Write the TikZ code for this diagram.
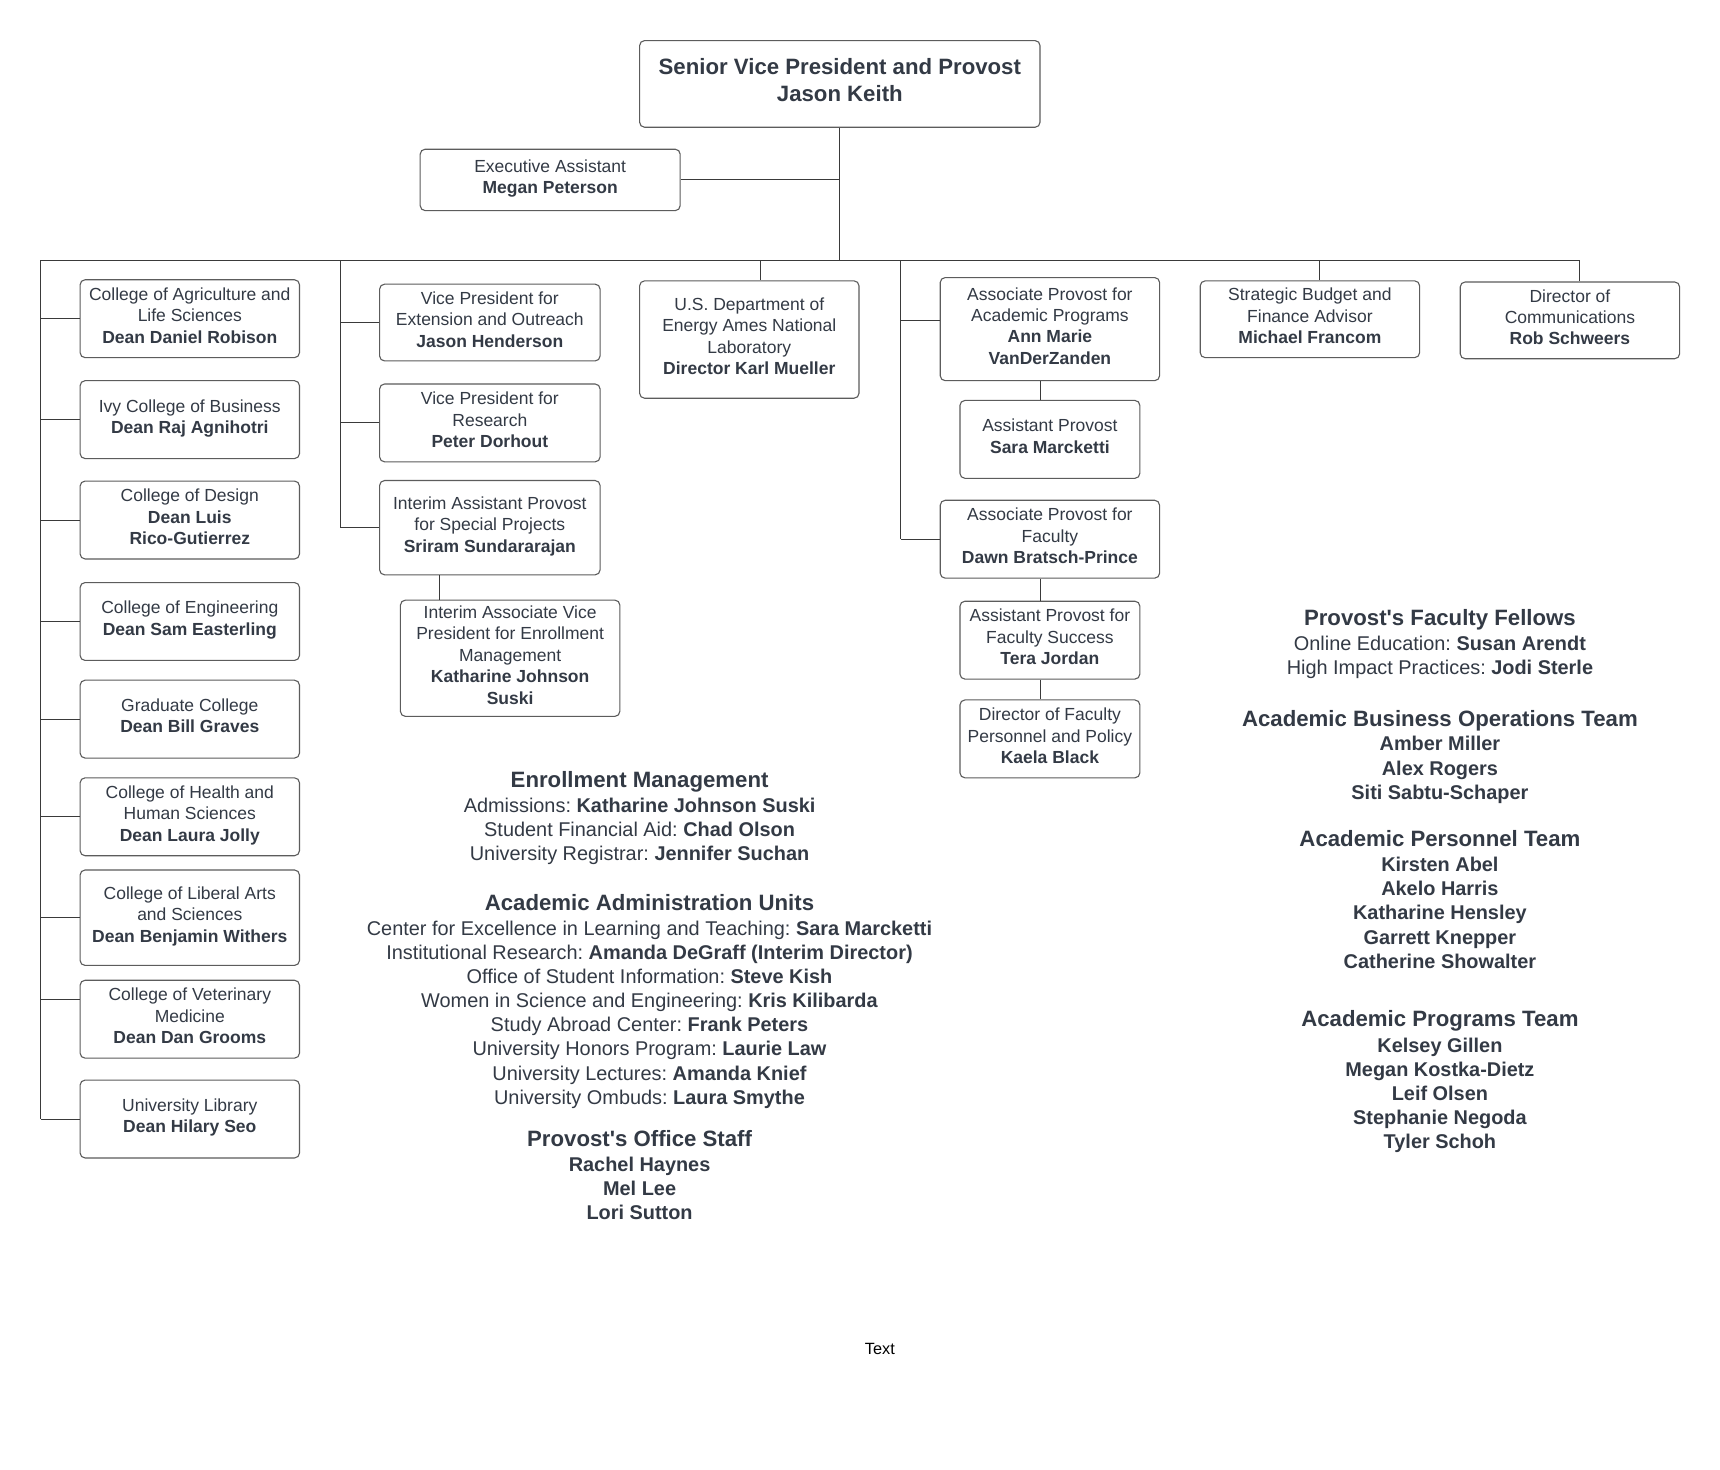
\documentclass[tikz,border=0pt]{standalone}
\usepackage{fontspec}
\setmainfont{Liberation Sans}
\usetikzlibrary{positioning}
\usetikzlibrary{calc}
\definecolor{inkc}{HTML}{333A45}
\definecolor{wirec}{HTML}{3A3A3A}
\definecolor{framec}{HTML}{5C5C5C}
\newcommand{\boxfont}{\fontsize{17.5}{21.4}\selectfont}
\newcommand{\bodyfont}{\fontsize{19.9}{24.2}\selectfont}
\newcommand{\headfont}{\fontsize{22.2}{27.5}\selectfont\bfseries}
\tikzset{
	every path/.style={line width=1.1pt},
	unit/.style={draw=framec, rounded corners=5pt, align=center, text=inkc, font=\boxfont, inner sep=0pt, minimum width=219.4pt, minimum height=77.9pt, execute at begin node=\strut, execute at end node=\strut},
	boxsize/.style 2 args={minimum width=#1*1.0971pt, minimum height=#2*1.0971pt},
	wire/.style={draw=wirec, line width=1pt},
	txtline/.style={anchor=base, text=inkc, font=\bodyfont, inner sep=0pt},
	names/.style={txtline, font=\bodyfont\bfseries},
	heading/.style={txtline, font=\headfont}
}

\begin{document}
\frenchspacing
\begin{tikzpicture}[x=1.0971pt, y=-1.0971pt]
	\fill[white] (0,0) rectangle (1567.8,1339.9);
	\useasboundingbox (0,0) rectangle (1567.8,1339.9);
	
	% Provost and assistant
	\node[unit, boxsize={365}{79}, font=\headfont] (provost) at (765.5,76.5) {Senior Vice President and Provost\\Jason Keith};
	\node[unit, boxsize={237}{56}] (exec) at (501.5,164) {Executive Assistant\\\textbf{Megan Peterson}};
	
	% Colleges
	\node[unit] (agri) at (173,290.5) {College of Agriculture and\\Life Sciences\\\textbf{Dean Daniel Robison}};
	\node[unit] (ivy) at (173,382.5) {Ivy College of Business\\\textbf{Dean Raj Agnihotri}};
	\node[unit] (design) at (173,474) {College of Design\\\textbf{Dean Luis}\\\textbf{Rico-Gutierrez}};
	\node[unit] (eng) at (173,566.5) {College of Engineering\\\textbf{Dean Sam Easterling}};
	\node[unit] (grad) at (173,655.5) {Graduate College\\\textbf{Dean Bill Graves}};
	\node[unit] (health) at (173,744.5) {College of Health and\\Human Sciences\\\textbf{Dean Laura Jolly}};
	\node[unit, boxsize={200}{87}] (las) at (173,836.5) {College of Liberal Arts\\and Sciences\\\textbf{Dean Benjamin Withers}};
	\node[unit] (vet) at (173,929) {College of Veterinary\\Medicine\\\textbf{Dean Dan Grooms}};
	\node[unit] (lib) at (173,1020) {University Library\\\textbf{Dean Hilary Seo}};
	
	% Vice presidents
	\node[unit, boxsize={201}{70}] (vpext) at (446.5,294) {Vice President for\\Extension and Outreach\\\textbf{Jason Henderson}};
	\node[unit, boxsize={201}{71}] (vpres) at (446.5,385.5) {Vice President for\\Research\\\textbf{Peter Dorhout}};
	\node[unit, boxsize={201}{86}] (iap) at (446.5,481) {Interim Assistant Provost\\for Special Projects\\\textbf{Sriram Sundararajan}};
	\node[unit, boxsize={200}{106}] (iavp) at (465,600) {Interim Associate Vice\\President for Enrollment\\Management\\\textbf{Katharine Johnson}\\\textbf{Suski}};
	\node[unit, boxsize={200}{107}] (doe) at (683,309.5) {U.S. Department of\\Energy Ames National\\Laboratory\\\textbf{Director Karl Mueller}};
	
	% Associate provosts
	\node[unit, boxsize={200}{94}] (apap) at (957,300) {Associate Provost for\\Academic Programs\\\textbf{Ann Marie}\\\textbf{VanDerZanden}};
	\node[unit, boxsize={164}{71}] (aps) at (957,400.5) {Assistant Provost\\\textbf{Sara Marcketti}};
	\node[unit] (apf) at (957,491.5) {Associate Provost for\\Faculty\\\textbf{Dawn Bratsch-Prince}};
	\node[unit, boxsize={164}{71}] (apfs) at (957,583.5) {Assistant Provost for\\Faculty Success\\\textbf{Tera Jordan}};
	\node[unit, boxsize={164}{71}] (dfpp) at (957,673.5) {Director of Faculty\\Personnel and Policy\\\textbf{Kaela Black}};
	\node[unit, boxsize={200}{70}] (budget) at (1194,291) {Strategic Budget and\\Finance Advisor\\\textbf{Michael Francom}};
	\node[unit, boxsize={200}{70}] (comm) at (1431,292) {Director of\\Communications\\\textbf{Rob Schweers}};
	
	% Connectors
	\coordinate (barL) at (37,237);
	\coordinate (barR) at (1440,237);
	\coordinate (trunkB) at (310,237);
	\coordinate (trunkD) at (821,237);
	\coordinate (vetin) at ($(vet.north west)!0.25!(vet.south west)$);
	\coordinate (apapin) at ($(apap.north west)!0.415!(apap.south west)$);
	\coordinate (iavpin) at ($(iavp.north west)+(36,0)$);
	\coordinate (doein) at ($(doe.north)+(10,0)$);
	\coordinate (budgetin) at ($(budget.north)+(9,0)$);
	\coordinate (stem) at ($(aps.north)+(-9,0)$);
	
	\draw[wire] (barL) -- (barR);
	\draw[wire] (provost.south) -- (provost.south |- barL);
	\draw[wire] (exec.east) -- (exec.east -| provost.south);
	
	\draw[wire] (barL) -- (barL |- lib.west);
	\foreach \n in {agri,ivy,design,eng,grad,health,las,lib}
		\draw[wire] (barL |- \n.west) -- (\n.west);
	\draw[wire] (barL |- vetin) -- (vetin);
	
	\draw[wire] (trunkB) -- (trunkB |- iap.west);
	\foreach \n in {vpext,vpres,iap}
		\draw[wire] (trunkB |- \n.west) -- (\n.west);
	\draw[wire] (iavpin |- iap.south) -- (iavpin);
	
	\draw[wire] (doein |- barL) -- (doein);
	\draw[wire] (budgetin |- barL) -- (budgetin);
	\draw[wire] (barR) -- (barR |- comm.north);
	
	\draw[wire] (trunkD) -- (trunkD |- apf.west);
	\draw[wire] (trunkD |- apapin) -- (apapin);
	\draw[wire] (trunkD |- apf.west) -- (apf.west);
	\draw[wire] (apap.south -| stem) -- (aps.north -| stem);
	\draw[wire] (apf.south -| stem) -- (apfs.north -| stem);
	\draw[wire] (apfs.south -| stem) -- (dfpp.north -| stem);
	
	% Enrollment Management
	\node[heading] (em) at (583,718) {Enrollment Management};
	\foreach \t [count=\i from 0] in {{Admissions: \textbf{Katharine Johnson Suski}}, {Student Financial Aid: \textbf{Chad Olson}}, {University Registrar: \textbf{Jennifer Suchan}}}
		\node[txtline] (em-\i) at (583,740.5+22*\i) {\t};
	
	% Academic Administration Units
	\node[heading] (aau) at (592,830) {Academic Administration Units};
	\foreach \t [count=\i from 0] in {{Center for Excellence in Learning and Teaching: \textbf{Sara Marcketti}}, {Institutional Research: \textbf{Amanda DeGraff (Interim Director)}}, {Office of Student Information: \textbf{Steve Kish}}, {Women in Science and Engineering: \textbf{Kris Kilibarda}}, {Study Abroad Center: \textbf{Frank Peters}}, {University Honors Program: \textbf{Laurie Law}}, {University Lectures: \textbf{Amanda Knief}}, {University Ombuds: \textbf{Laura Smythe}}}
		\node[txtline] (aau-\i) at (592,852.5+22*\i) {\t};
	
	% Provost's Office Staff
	\node[heading] (staff) at (583,1045) {Provost\textquotesingle s Office Staff};
	\foreach \t [count=\i from 0] in {Rachel Haynes, Mel Lee, Lori Sutton}
		\node[names] (staff-\i) at (583,1067.5+22*\i) {\t};
	
	% Fellows and teams
	\node[heading] (fellows) at (1312.5,570) {Provost\textquotesingle s Faculty Fellows};
	\foreach \t [count=\i from 0] in {{Online Education: \textbf{Susan Arendt}}, {High Impact Practices: \textbf{Jodi Sterle}}}
		\node[txtline] (fellows-\i) at (1312.5,592.5+22*\i) {\t};
	
	\node[heading] (bizops) at (1312.5,662) {Academic Business Operations Team};
	\foreach \t [count=\i from 0] in {Amber Miller, Alex Rogers, Siti Sabtu-Schaper}
		\node[names] (bizops-\i) at (1312.5,684.5+22*\i) {\t};
	
	\node[heading] (personnel) at (1312.5,772) {Academic Personnel Team};
	\foreach \t [count=\i from 0] in {Kirsten Abel, Akelo Harris, Katharine Hensley, Garrett Knepper, Catherine Showalter}
		\node[names] (personnel-\i) at (1312.5,794.5+22*\i) {\t};
	
	\node[heading] (programs) at (1312.5,936) {Academic Programs Team};
	\foreach \t [count=\i from 0] in {Kelsey Gillen, Megan Kostka-Dietz, Leif Olsen, Stephanie Negoda, Tyler Schoh}
		\node[names] (programs-\i) at (1312.5,959.5+21.8*\i) {\t};
	
	\node[txtline, text=black, font=\fontsize{16.3}{19}\selectfont] (note) at (802,1234.5) {Text};
\end{tikzpicture}
\end{document}
